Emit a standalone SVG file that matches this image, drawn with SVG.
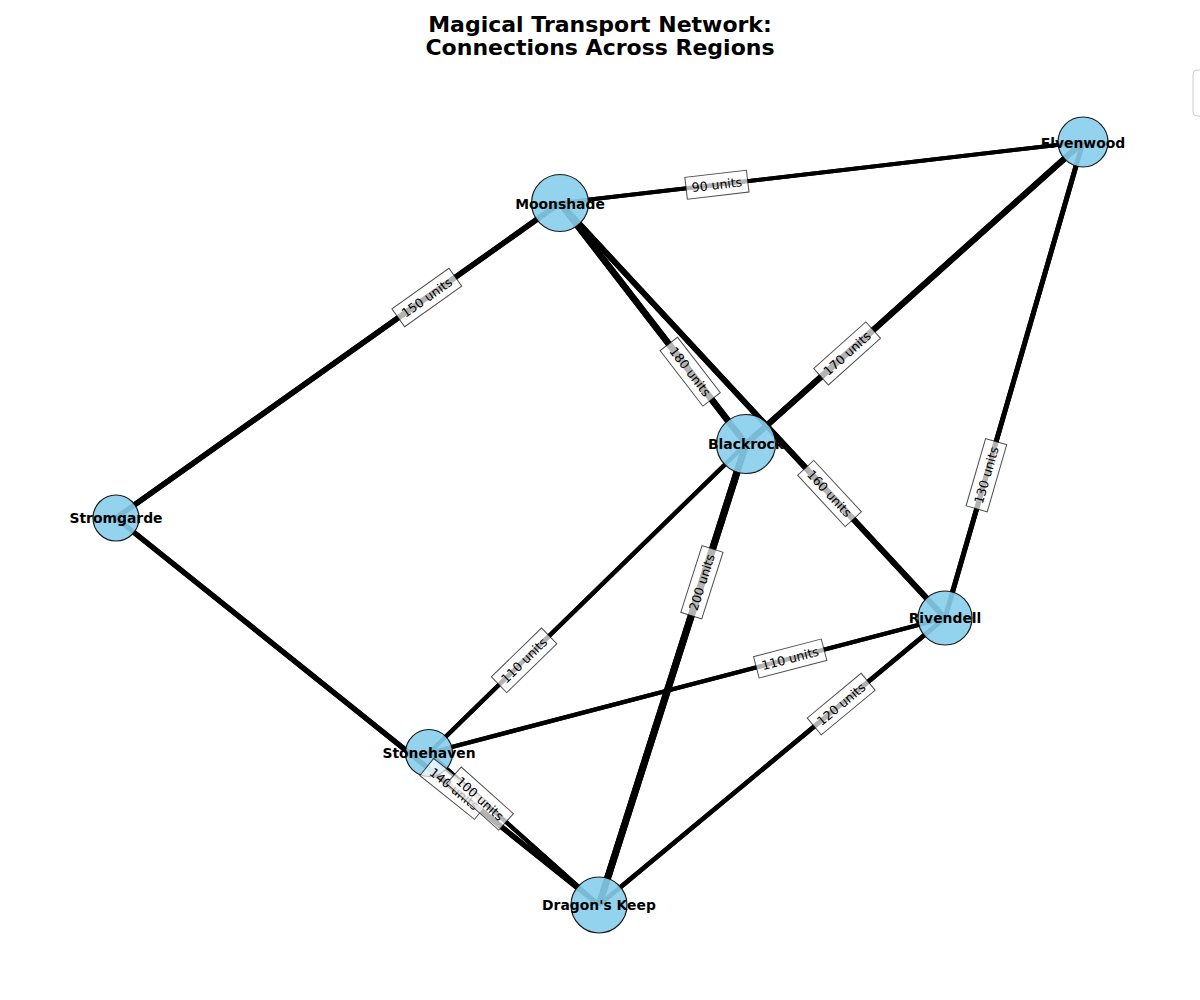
<svg xmlns="http://www.w3.org/2000/svg" xmlns:xlink="http://www.w3.org/1999/xlink" width="1200" height="1000" viewBox="0 0 1200 1000">
<style>
.edge{stroke:#000;stroke-linecap:butt;fill:none}
.node{fill:#87CEEB;fill-opacity:0.9;stroke:#1a1a1a;stroke-width:1.2}
.nlabel{font-family:"DejaVu Sans","Liberation Sans",sans-serif;font-weight:bold;font-size:13.9px;text-anchor:middle;fill:#000}
.elabel{font-family:"DejaVu Sans","Liberation Sans",sans-serif;font-size:12.5px;text-anchor:middle;fill:#000}
.ebox{fill:#fff;fill-opacity:0.7;stroke:#000;stroke-opacity:0.7;stroke-width:1}
.title{font-family:"DejaVu Sans","Liberation Sans",sans-serif;font-weight:bold;font-size:22px;text-anchor:middle;fill:#000}
</style>
<defs>
<mask id="outside" maskUnits="userSpaceOnUse" x="0" y="0" width="1200" height="1000">
<rect x="0" y="0" width="1200" height="1000" fill="#fff"/>
<circle cx="560" cy="203" r="28.5" fill="#000"/>
<circle cx="1083" cy="142" r="25" fill="#000"/>
<circle cx="746" cy="444" r="29.5" fill="#000"/>
<circle cx="116" cy="518" r="23" fill="#000"/>
<circle cx="945" cy="618" r="27" fill="#000"/>
<circle cx="429" cy="753" r="23.5" fill="#000"/>
<circle cx="599" cy="905" r="28" fill="#000"/>
</mask>
</defs>
<rect x="0" y="0" width="1200" height="1000" fill="#fff"/>
<text class="title" x="600" y="32">Magical Transport Network:</text>
<text class="title" x="600" y="55">Connections Across Regions</text>
<rect x="1193" y="70" width="60" height="46" rx="4" fill="#fff" stroke="#cccccc" stroke-width="1"/>
<g id="connectors">
<line class="edge" x1="560" y1="203" x2="1083" y2="142" stroke-width="4"/>
<line class="edge" x1="560" y1="203" x2="116" y2="518" stroke-width="5.4"/>
<line class="edge" x1="560" y1="203" x2="746" y2="444" stroke-width="6.4"/>
<line class="edge" x1="560" y1="203" x2="945" y2="618" stroke-width="5.7"/>
<line class="edge" x1="1083" y1="142" x2="746" y2="444" stroke-width="6"/>
<line class="edge" x1="1083" y1="142" x2="945" y2="618" stroke-width="4.9"/>
<line class="edge" x1="746" y1="444" x2="429" y2="753" stroke-width="4.3"/>
<line class="edge" x1="746" y1="444" x2="599" y2="905" stroke-width="7"/>
<line class="edge" x1="429" y1="753" x2="945" y2="618" stroke-width="4.3"/>
<line class="edge" x1="945" y1="618" x2="599" y2="905" stroke-width="4.6"/>
<line class="edge" x1="429" y1="753" x2="599" y2="905" stroke-width="4.1"/>
<line class="edge" x1="116" y1="518" x2="599" y2="905" stroke-width="5.2"/>
</g>
<g id="node-moonshade"><circle class="node" cx="560" cy="203" r="28.5"/><text class="nlabel" x="560" y="208.5">Moonshade</text></g>
<g id="node-elvenwood"><circle class="node" cx="1083" cy="142" r="25"/><text class="nlabel" x="1083" y="147.5">Elvenwood</text></g>
<g id="node-blackrock"><circle class="node" cx="746" cy="444" r="29.5"/><text class="nlabel" x="746" y="449">Blackrock</text></g>
<g id="node-stromgarde"><circle class="node" cx="116" cy="518" r="23"/><text class="nlabel" x="116" y="523">Stromgarde</text></g>
<g id="node-rivendell"><circle class="node" cx="945" cy="618" r="27"/><text class="nlabel" x="945" y="623">Rivendell</text></g>
<g id="node-stonehaven"><circle class="node" cx="429" cy="753" r="23.5"/><text class="nlabel" x="429" y="757.5">Stonehaven</text></g>
<g id="node-dragonskeep"><circle class="node" cx="599" cy="905" r="28"/><text class="nlabel" x="599" y="909.5">Dragon's Keep</text></g>
<use xlink:href="#connectors" href="#connectors" mask="url(#outside)"/>
<g id="edge-labels">
<g transform="translate(716.9,184.7) rotate(-6.65)"><rect class="ebox" x="-31" y="-11" width="62" height="22"/><text class="elabel" x="0" y="4.5">90 units</text></g>
<g transform="translate(426.8,297.5) rotate(-35.36)"><rect class="ebox" x="-35" y="-11" width="70" height="22"/><text class="elabel" x="0" y="4.5">150 units</text></g>
<g transform="translate(690.2,371.7) rotate(52.34)"><rect class="ebox" x="-35" y="-11" width="70" height="22"/><text class="elabel" x="0" y="4.5">180 units</text></g>
<g transform="translate(829.5,493.5) rotate(47.15)"><rect class="ebox" x="-35" y="-11" width="70" height="22"/><text class="elabel" x="0" y="4.5">160 units</text></g>
<g transform="translate(847.1,353.4) rotate(-41.87)"><rect class="ebox" x="-35" y="-11" width="70" height="22"/><text class="elabel" x="0" y="4.5">170 units</text></g>
<g transform="translate(986.4,475.2) rotate(-73.83)"><rect class="ebox" x="-35" y="-11" width="70" height="22"/><text class="elabel" x="0" y="4.5">130 units</text></g>
<g transform="translate(524.1,660.3) rotate(-44.27)"><rect class="ebox" x="-35" y="-11" width="70" height="22"/><text class="elabel" x="0" y="4.5">110 units</text></g>
<g transform="translate(701.9,582.3) rotate(-72.31)"><rect class="ebox" x="-35" y="-11" width="70" height="22"/><text class="elabel" x="0" y="4.5">200 units</text></g>
<g transform="translate(790.2,658.5) rotate(-14.66)"><rect class="ebox" x="-35" y="-11" width="70" height="22"/><text class="elabel" x="0" y="4.5">110 units</text></g>
<g transform="translate(841.2,704.1) rotate(-39.67)"><rect class="ebox" x="-35" y="-11" width="70" height="22"/><text class="elabel" x="0" y="4.5">120 units</text></g>
<g transform="translate(454.1,788.9) rotate(38.7)"><rect class="ebox" x="-35" y="-11" width="70" height="22"/><text class="elabel" x="0" y="4.5">140 units</text></g>
<g transform="translate(480,798.6) rotate(41.8)"><rect class="ebox" x="-35" y="-11" width="70" height="22"/><text class="elabel" x="0" y="4.5">100 units</text></g>
</g>
</svg>
